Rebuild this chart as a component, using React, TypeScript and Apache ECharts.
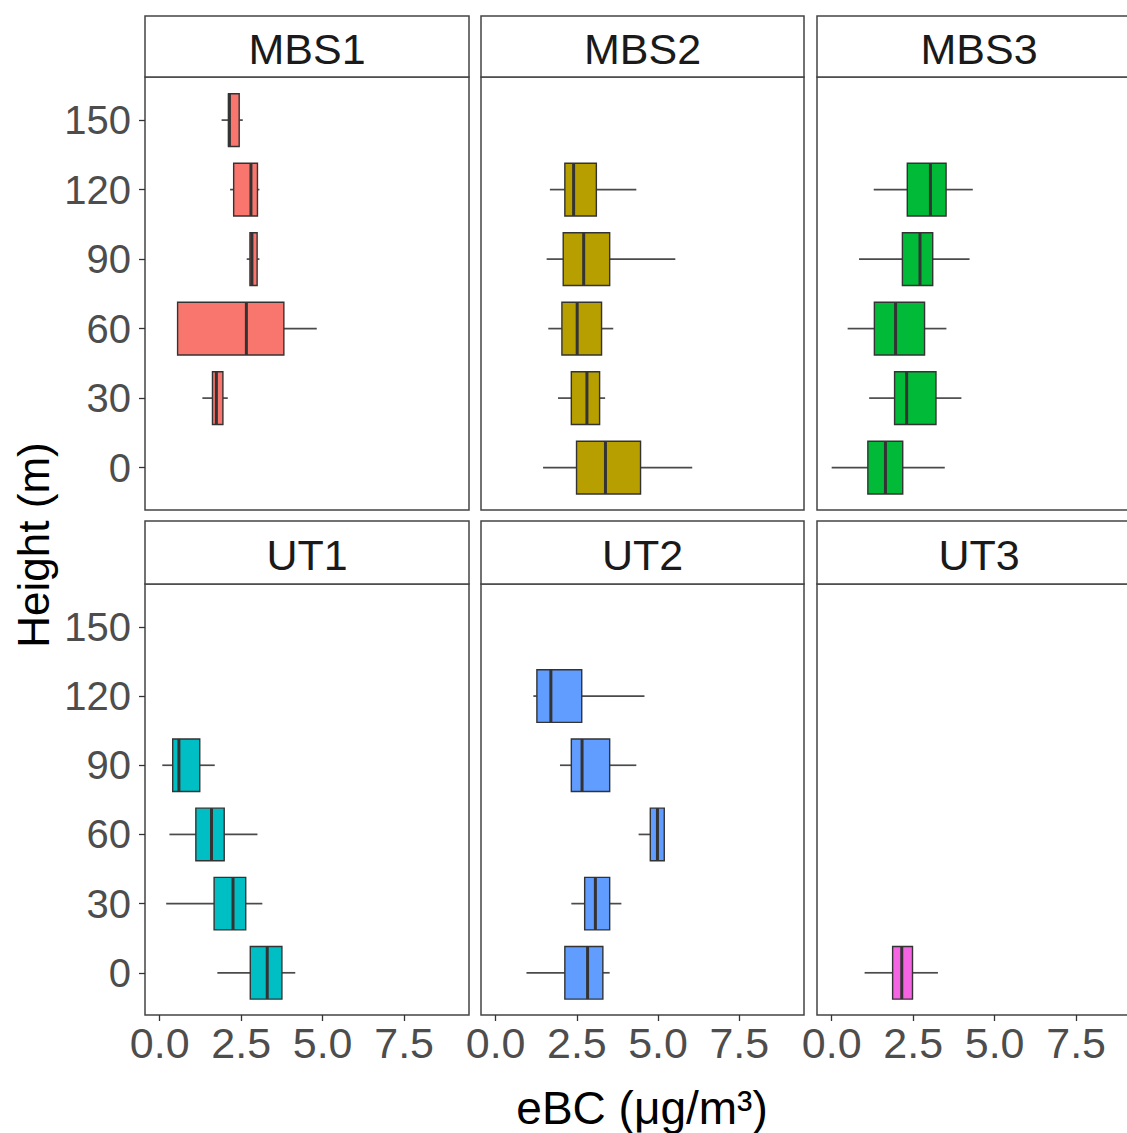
import React, { useEffect, useRef } from "react";
import * as echarts from "echarts";

const panelNames = ["MBS1", "MBS2", "MBS3", "UT1", "UT2", "UT3"];
const panelColors = ["#F8766D", "#B79F00", "#00BA38", "#00BFC4", "#619CFF", "#F564E3"];
const xTicks = [0, 2.5, 5, 7.5];
const yTicks = [0, 30, 60, 90, 120, 150];

// each row: [height, lower whisker, Q1, median, Q3, upper whisker]
const mbs1 = [
  [150, 1.9, 2.11, 2.14, 2.44, 2.55],
  [120, 2.16, 2.27, 2.8, 3.0, 3.06],
  [90, 2.67, 2.77, 2.83, 2.99, 3.06],
  [60, 0.55, 0.55, 2.66, 3.81, 4.82],
  [30, 1.31, 1.62, 1.74, 1.94, 2.09],
];
const mbs2 = [
  [120, 1.67, 2.13, 2.4, 3.1, 4.33],
  [90, 1.57, 2.08, 2.71, 3.51, 5.53],
  [60, 1.62, 2.04, 2.51, 3.26, 3.62],
  [30, 1.92, 2.33, 2.81, 3.2, 3.37],
  [0, 1.46, 2.49, 3.38, 4.46, 6.05],
];
const mbs3 = [
  [120, 1.29, 2.32, 3.03, 3.51, 4.33],
  [90, 0.84, 2.17, 2.71, 3.1, 4.23],
  [60, 0.49, 1.31, 1.96, 2.85, 3.52],
  [30, 1.15, 1.93, 2.3, 3.2, 3.98],
  [0, 0.0, 1.11, 1.65, 2.18, 3.47],
];
const ut1 = [
  [90, 0.08, 0.4, 0.59, 1.23, 1.69],
  [60, 0.3, 1.11, 1.59, 1.98, 3.0],
  [30, 0.2, 1.67, 2.25, 2.64, 3.15],
  [0, 1.77, 2.78, 3.3, 3.75, 4.16],
];
const ut2 = [
  [120, 1.16, 1.27, 1.7, 2.65, 4.58],
  [90, 1.98, 2.33, 2.66, 3.51, 4.33],
  [60, 4.4, 4.76, 4.98, 5.19, 5.19],
  [30, 2.33, 2.74, 3.07, 3.51, 3.87],
  [0, 0.95, 2.13, 2.83, 3.3, 3.51],
];
const ut3 = [[0, 1.01, 1.87, 2.15, 2.48, 3.26]];

const panelData = [mbs1, mbs2, mbs3, ut1, ut2, ut3];

const FONT = "'Liberation Sans', Arial, sans-serif";
const HALF = 11.4; // half box thickness in height units

export default function App() {
  const ref = useRef<HTMLDivElement>(null);
  useEffect(() => {
    if (!ref.current) return;
    const chart = echarts.init(ref.current, null, { renderer: "svg" });
    const lefts = [145, 481, 817];
    const widths = [324, 323, 324];
    const tops = [77, 584];
    const heights = [433, 431];
    const grids: any[] = [];
    const xAxes: any[] = [];
    const yAxes: any[] = [];
    const series: any[] = [];
    const graphics: any[] = [];
    panelNames.forEach((name, i) => {
      const r = Math.floor(i / 3);
      const c = i % 3;
      grids.push({
        left: lefts[c],
        top: tops[r],
        width: widths[c],
        height: heights[r],
        show: true,
        borderColor: "#444",
        borderWidth: 1.5,
        backgroundColor: "transparent",
      });
      xAxes.push({
        gridIndex: i,
        type: "value",
        position: "bottom",
        min: -0.45,
        max: 9.49,
        splitLine: { show: false },
        axisLine: { show: false, onZero: false },
        axisTick: {
          show: r === 1,
          customValues: xTicks,
          length: 6,
          lineStyle: { color: "#333", width: 1.3 },
        },
        axisLabel: {
          show: r === 1,
          customValues: xTicks,
          formatter: (v: number) => v.toFixed(1),
          fontSize: 43,
          color: "#4D4D4D",
          fontFamily: FONT,
          margin: 6,
        },
      });
      yAxes.push({
        gridIndex: i,
        type: "value",
        position: "left",
        min: -18.3,
        max: 168.6,
        splitLine: { show: false },
        axisLine: { show: false, onZero: false },
        axisTick: {
          show: c === 0,
          customValues: yTicks,
          length: 6,
          lineStyle: { color: "#333", width: 1.3 },
        },
        axisLabel: {
          show: c === 0,
          customValues: yTicks,
          fontSize: 40,
          color: "#4D4D4D",
          fontFamily: FONT,
          margin: 14,
        },
      });
      const color = panelColors[i];
      series.push({
        type: "custom",
        xAxisIndex: i,
        yAxisIndex: i,
        data: panelData[i],
        encode: { x: [1, 2, 3, 4, 5], y: 0 },
        renderItem: (params: any, api: any) => {
          const h = api.value(0);
          const lo = api.value(1);
          const q1 = api.value(2);
          const med = api.value(3);
          const q3 = api.value(4);
          const hi = api.value(5);
          const pLo = api.coord([lo, h]);
          const pQ1 = api.coord([q1, h]);
          const pMed = api.coord([med, h]);
          const pQ3 = api.coord([q3, h]);
          const pHi = api.coord([hi, h]);
          const yTop = api.coord([q1, h + HALF])[1];
          const yBot = api.coord([q1, h - HALF])[1];
          const wStyle = { stroke: "#4a4a4a", lineWidth: 1.7, fill: null };
          return {
            type: "group",
            children: [
              { type: "line", shape: { x1: pLo[0], y1: pLo[1], x2: pQ1[0], y2: pQ1[1] }, style: wStyle },
              { type: "line", shape: { x1: pQ3[0], y1: pQ3[1], x2: pHi[0], y2: pHi[1] }, style: wStyle },
              {
                type: "rect",
                shape: { x: pQ1[0], y: yTop, width: pQ3[0] - pQ1[0], height: yBot - yTop },
                style: { fill: color, stroke: "#333", lineWidth: 1.4 },
              },
              {
                type: "line",
                shape: { x1: pMed[0], y1: yTop, x2: pMed[0], y2: yBot },
                style: { stroke: "#333", lineWidth: 3, fill: null },
              },
            ],
          };
        },
      });
      const stripTop = r === 0 ? 16 : 521;
      const stripH = r === 0 ? 61 : 63;
      graphics.push({
        type: "rect",
        shape: { x: lefts[c], y: stripTop, width: widths[c], height: stripH },
        style: { fill: "#fff", stroke: "#444", lineWidth: 1.5 },
      });
      graphics.push({
        type: "text",
        x: lefts[c] + widths[c] / 2,
        y: stripTop + stripH / 2 + 2,
        style: {
          text: name,
          fontSize: 43,
          fontFamily: FONT,
          fill: "#1A1A1A",
          align: "center",
          verticalAlign: "middle",
        },
      });
    });
    graphics.push({
      type: "text",
      x: 33,
      y: 545,
      rotation: Math.PI / 2,
      style: {
        text: "Height (m)",
        fontSize: 44,
        fontFamily: FONT,
        fill: "#000",
        align: "center",
        verticalAlign: "middle",
      },
    });
    graphics.push({
      type: "text",
      x: 642,
      y: 1108,
      style: {
        text: "eBC (\u03BCg/m\u00B3)",
        fontSize: 46,
        fontFamily: FONT,
        fill: "#000",
        align: "center",
        verticalAlign: "middle",
      },
    });
    chart.setOption({
      animation: false,
      backgroundColor: "#fff",
      grid: grids,
      xAxis: xAxes,
      yAxis: yAxes,
      series,
      graphic: graphics,
    });
    return () => chart.dispose();
  }, []);
  return (
    <div style={{ position: "absolute", left: 0, top: 0, width: 1127, height: 1133, overflow: "hidden" }}>
      <div ref={ref} style={{ width: 1150, height: 1133 }} />
    </div>
  );
}
